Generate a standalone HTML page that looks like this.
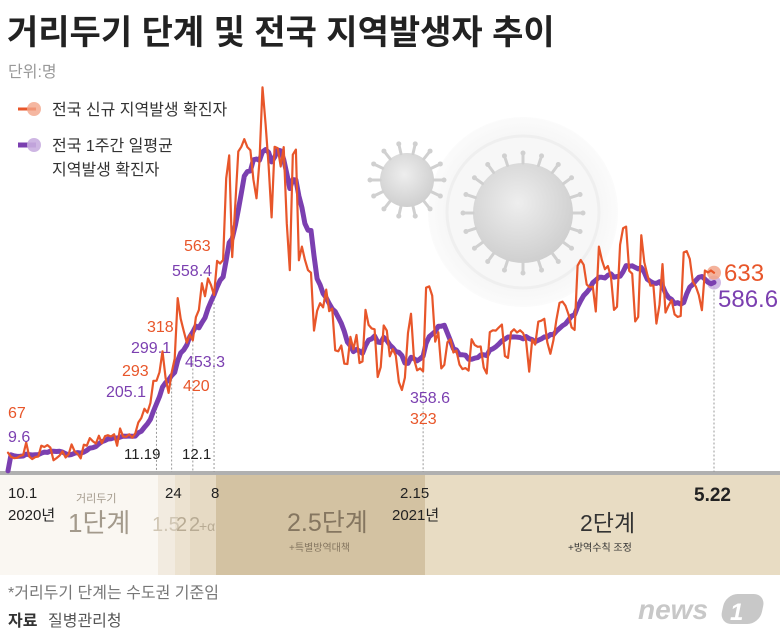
<!DOCTYPE html>
<html><head><meta charset="utf-8"><style>
body{margin:0;background:#fff;}
#c{position:relative;width:780px;height:638px;overflow:hidden;font-family:"Liberation Sans","Noto Sans CJK KR",sans-serif;}
svg{position:absolute;left:0;top:0;}
</style></head><body>
<div id="c">
<svg id="s" width="780" height="638" xmlns="http://www.w3.org/2000/svg">
<defs>
<radialGradient id="halo" cx="50%" cy="50%" r="50%"><stop offset="70%" stop-color="#f4f4f4"/><stop offset="100%" stop-color="#fbfbfb"/></radialGradient>
<radialGradient id="vb" cx="45%" cy="40%" r="60%"><stop offset="0%" stop-color="#eeeeee"/><stop offset="100%" stop-color="#cfcfcf"/></radialGradient>
</defs>
<g>
<rect x="0" y="475" width="158" height="100" fill="#faf7f2"/>
<rect x="158" y="475" width="17" height="100" fill="#f2ebe0"/>
<rect x="175" y="475" width="15" height="100" fill="#ece2d0"/>
<rect x="190" y="475" width="26" height="100" fill="#e6dac4"/>
<rect x="216" y="475" width="209" height="100" fill="#d3c2a2"/>
<rect x="425" y="475" width="355" height="100" fill="#e8dcc3"/>
</g>
<g>
<circle cx="523" cy="212" r="95" fill="url(#halo)"/>
<circle cx="523" cy="212" r="76" fill="#f7f7f7" stroke="#efefef" stroke-width="3"/>
<circle cx="523" cy="213" r="50" fill="url(#vb)"/>
<circle cx="407" cy="180" r="27" fill="url(#vb)"/>
<g id="spikes" stroke="#d0d0d0" stroke-width="3" stroke-linecap="round"></g>
</g>
<line x1="0" y1="473" x2="780" y2="473" stroke="#b0b0b0" stroke-width="4"/>
<g id="guides"></g>
<g id="plot"></g>
<g>
<line x1="18" y1="109" x2="36" y2="109" stroke="#e8562a" stroke-width="3"/>
<circle cx="34" cy="109" r="7" fill="#f2a58a" opacity="0.8"/>
<text x="52" y="115" font-size="16" fill="#333">전국 신규 지역발생 확진자</text>
<line x1="18" y1="145" x2="36" y2="145" stroke="#7b3fb0" stroke-width="5"/>
<circle cx="34" cy="145" r="7" fill="#c9aee0" opacity="0.9"/>
<text x="52" y="151" font-size="16" fill="#333">전국 1주간 일평균</text>
<text x="52" y="175" font-size="16" fill="#333">지역발생 확진자</text>
</g>
<text x="7" y="44" font-size="34" font-weight="bold" fill="#222">거리두기 단계 및 전국 지역발생자 추이</text>
<text x="8" y="77" font-size="16" fill="#999">단위:명</text>
<g font-size="16" fill="#e8562a">
<text x="8" y="418">67</text><text x="122" y="376">293</text><text x="147" y="332">318</text><text x="183" y="391">420</text><text x="184" y="251">563</text>
<text x="410" y="424">323</text><text x="724" y="281" font-size="24">633</text>
</g>
<g font-size="16" fill="#7b3fb0">
<text x="8" y="442">9.6</text><text x="106" y="397">205.1</text><text x="131" y="353">299.1</text><text x="185" y="367">453.3</text><text x="172" y="276">558.4</text>
<text x="410" y="403">358.6</text><text x="718" y="307" font-size="24">586.6</text>
</g>
<g font-size="15" fill="#222">
<text x="8" y="498">10.1</text><text x="8" y="520">2020년</text>
<text x="124" y="459">11.19</text><text x="165" y="498">24</text><text x="182" y="459">12.1</text><text x="211" y="498">8</text>
<text x="400" y="498">2.15</text><text x="392" y="520">2021년</text>
<text x="694" y="501" font-size="19" font-weight="bold">5.22</text>
</g>
<g fill="#a39a8c">
<text x="76" y="502" font-size="11">거리두기</text>
<text x="68" y="532" font-size="26">1단계</text>
<text x="152" y="531" font-size="20" fill="#d0c6b4">1.5</text>
<text x="176" y="531" font-size="20" fill="#b8ab94">2</text>
<text x="189" y="531" font-size="20" fill="#b8ab94">2</text>
<text x="199" y="531" font-size="14" fill="#b8ab94">+α</text>
<text x="287" y="531" font-size="25" fill="#857660">2.5단계</text>
<text x="289" y="551" font-size="10" fill="#857660">+특별방역대책</text>
<text x="580" y="531" font-size="23" fill="#333">2단계</text>
<text x="568" y="551" font-size="10" fill="#333">+방역수칙 조정</text>
</g>
<text x="8" y="598" font-size="16" fill="#777">*거리두기 단계는 수도권 기준임</text>
<text x="8" y="626" font-size="16" fill="#333" font-weight="bold">자료</text>
<text x="48" y="626" font-size="16" fill="#555">질병관리청</text>
<text x="638" y="619" font-size="28" font-style="italic" font-weight="bold" fill="#c8c8c8">news</text>
<rect x="722" y="594" width="40" height="30" rx="12" fill="#c8c8c8" transform="skewX(-12) translate(130 0)"/>
<text x="730" y="620" font-size="24" font-weight="bold" font-style="italic" fill="#fff">1</text>
</svg>
</div>
<script>
const daily = [
67,54,50,51,57,60,99,55,47,53,55,89,85,91,83,43,50,58,71,52,62,93,71,63,49,92,89,113,103,96,120,
97,119,122,118,125,89,143,118,117,125,114,128,162,176,205,193,223,293,293,320,386,302,255,318,363,553,488,450,413,438,
420,493,516,600,559,615,594,563,670,662,673,930,1002,682,848,1014,1029,1053,1028,1018,926,867,985,1216,1100,970,807,1029,1025,967,1028,
787,641,1004,1020,672,715,674,641,633,451,513,537,524,580,512,520,389,386,404,347,346,431,392,437,349,354,516,469,458,455,305,
336,467,451,370,393,372,289,264,303,444,504,362,326,332,323,586,590,561,416,446,332,343,414,424,382,388,344,330,
333,325,424,406,400,401,335,316,446,452,451,461,470,371,365,446,455,445,452,443,418,322,423,407,479,482,488,414,378,420,485,
538,542,529,501,461,453,655,673,658,596,587,589,511,715,673,644,654,619,516,526,721,773,778,639,630,480,494,751,666,627,
592,593,473,532,660,508,529,547,502,494,497,697,701,676,605,590,563,515,640,634,640,633];
const startAvg = [10];
const markerDays = [49,54,61,68,137,233];

const NS='http://www.w3.org/2000/svg';
function xS(i){return 8+i*(706/233);}
function yS(v){return 474-v*0.318;}
const avg = daily.map((v,i)=>{ if(i===0) return startAvg[0]; const s=daily.slice(Math.max(0,i-6),i+1); return s.reduce((a,b)=>a+b,0)/s.length; });
const plot=document.getElementById('plot');
function path(arr,color,w,name){
  const p=document.createElementNS(NS,'path');
  p.setAttribute('d',arr.map((v,i)=>(i?'L':'M')+xS(i).toFixed(1)+' '+yS(v).toFixed(1)).join(''));
  p.setAttribute('fill','none');p.setAttribute('stroke',color);p.setAttribute('stroke-width',w);p.setAttribute('stroke-linejoin','round');p.setAttribute('stroke-linecap','round');
  
  
  plot.appendChild(p);
}
path(avg,'#7b3fb0',5,'weekly-average-line');
path(daily,'#e8562a',2.2,'daily-cases-line');
const g=document.getElementById('guides');
markerDays.forEach(d=>{
  const l=document.createElementNS(NS,'line');
  l.setAttribute('x1',xS(d));l.setAttribute('x2',xS(d));
  l.setAttribute('y1',yS(Math.min(daily[d],avg[d])));l.setAttribute('y2',472);
  l.setAttribute('stroke','#999');l.setAttribute('stroke-dasharray','2 2');l.setAttribute('stroke-width','1');
  
  
  g.appendChild(l);
});
const last=daily.length-1;
[[daily[last],'#f2a58a'],[avg[last],'#c9aee0']].forEach(([v,c])=>{
  const ci=document.createElementNS(NS,'circle');
  ci.setAttribute('cx',xS(last));ci.setAttribute('cy',yS(v));ci.setAttribute('r',7);ci.setAttribute('fill',c);ci.setAttribute('opacity','0.85');
  
  
  plot.insertBefore(ci,plot.firstChild);
});
const sp=document.getElementById('spikes');
[[407,180,27,14],[523,213,50,20]].forEach(([cx,cy,r,n])=>{
  for(let k=0;k<n;k++){const a=k/n*Math.PI*2;
    const l=document.createElementNS(NS,'line');
    l.setAttribute('x1',cx+Math.cos(a)*r);l.setAttribute('y1',cy+Math.sin(a)*r);
    l.setAttribute('x2',cx+Math.cos(a)*(r+9));l.setAttribute('y2',cy+Math.sin(a)*(r+9));
    
    
    sp.appendChild(l);
    const c=document.createElementNS(NS,'circle');
    c.setAttribute('cx',cx+Math.cos(a)*(r+10));c.setAttribute('cy',cy+Math.sin(a)*(r+10));c.setAttribute('r',2.5);c.setAttribute('fill','#d0d0d0');c.setAttribute('stroke','none');
    
    
    sp.appendChild(c);
  }
});
</script>
</body></html>
